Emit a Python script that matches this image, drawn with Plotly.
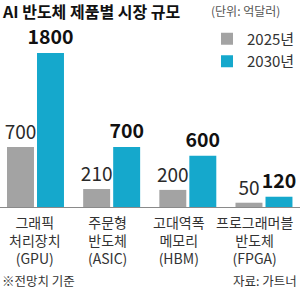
import plotly.graph_objects as go

categories = ["그래픽<br>처리장치<br>(GPU)", "주문형<br>반도체<br>(ASIC)", "고대역폭<br>메모리<br>(HBM)", "프로그래머블<br>반도체<br>(FPGA)"]
series_names = ["2025년", "2030년"]
values_2025 = [700, 210, 200, 50]
values_2030 = [1800, 700, 600, 120]

GRAY = "#a3a3a3"
BLUE = "#15a8cc"
FONT = "Liberation Sans Narrow, Noto Sans CJK KR, sans-serif"
KFONT = "Noto Sans CJK KR, sans-serif"

x_idx = list(range(len(categories)))
label_shift = [0, -4, -9, -9]

fig = go.Figure()
fig.add_trace(go.Bar(
    x=x_idx, y=values_2025, name=series_names[0],
    marker=dict(color=GRAY, line=dict(width=0)),
    offset=-0.374, width=0.354,
    text=[str(v) for v in values_2025], textposition="outside",
    textfont=dict(family=FONT, size=19, color="#2a2a2a"),
    constraintext="none", cliponaxis=False,
))
fig.add_trace(go.Bar(
    x=x_idx, y=values_2030, name=series_names[1],
    marker=dict(color=BLUE, line=dict(width=0)),
    offset=0.02, width=0.354,
    text=["<b>%d</b>" % v for v in values_2030], textposition="outside",
    textfont=dict(family=FONT, size=19.5, color="#111111"),
    constraintext="none", cliponaxis=False,
))

fig.update_layout(
    width=300, height=293,
    margin=dict(l=0, r=0, t=40, b=86, autoexpand=False),
    paper_bgcolor="white", plot_bgcolor="white",
    showlegend=True,
    legend=dict(x=1.0, xanchor="right", y=1.105, yanchor="top",
                font=dict(family=FONT, size=15, color="#333333"),
                bgcolor="rgba(0,0,0,0)", itemwidth=30, tracegroupgap=0,
                traceorder="normal"),
    xaxis=dict(range=[-0.466, 3.473], tickmode="array", tickvals=x_idx,
               showticklabels=False, showline=True, linecolor="#8a8a8a",
               linewidth=1, ticks="", showgrid=False, zeroline=False,
               automargin=False),
    yaxis=dict(range=[0, 1952], visible=False, showgrid=False, automargin=False),
    bargap=0.25,
)

for i, lab in enumerate(categories):
    fig.add_annotation(xref="x", yref="paper", x=x_idx[i], y=0, yshift=-3,
                       xshift=label_shift[i], xanchor="center", yanchor="top",
                       showarrow=False, text=lab, align="center",
                       font=dict(family=KFONT, size=14, color="#333333"))

fig.add_annotation(xref="paper", yref="paper", x=0.0, y=1.176, xanchor="left",
                   yanchor="middle", showarrow=False,
                   text="<b>AI 반도체 제품별 시장 규모</b>",
                   font=dict(family=KFONT, size=16, color="#111111"))
fig.add_annotation(xref="paper", yref="paper", x=0.94, y=1.176, xanchor="right",
                   yanchor="middle", showarrow=False,
                   text="(단위: 억달러)",
                   font=dict(family=KFONT, size=12, color="#555555"))
fig.add_annotation(xref="paper", yref="paper", x=0.0, y=-0.44, xanchor="left",
                   yanchor="middle", showarrow=False,
                   text="※전망치 기준",
                   font=dict(family=KFONT, size=12.5, color="#333333"))
fig.add_annotation(xref="paper", yref="paper", x=0.995, y=-0.44, xanchor="right",
                   yanchor="middle", showarrow=False,
                   text="자료: 가트너",
                   font=dict(family=KFONT, size=12.5, color="#333333"))

fig.write_html("out.html")
